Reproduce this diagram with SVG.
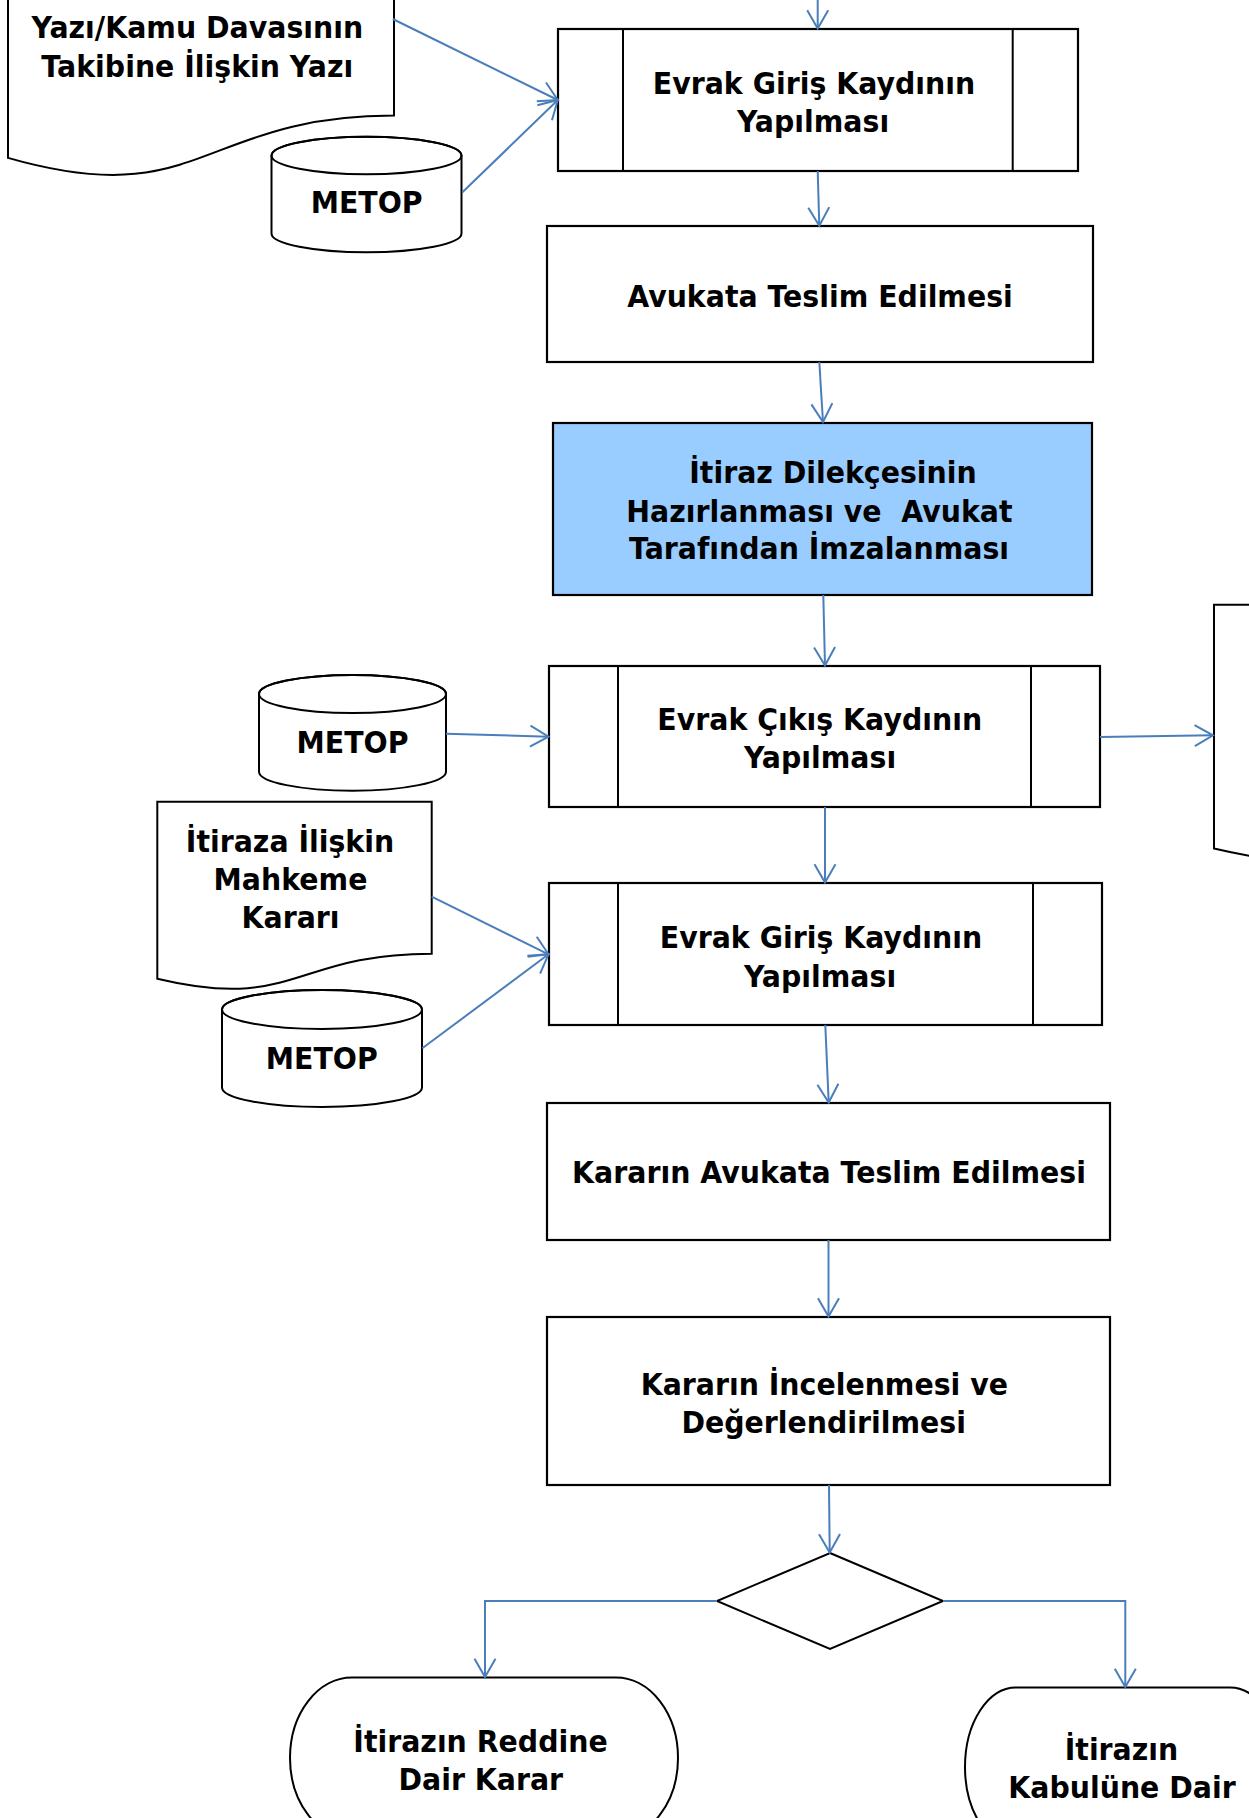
<svg xmlns="http://www.w3.org/2000/svg" width="1249" height="1818" viewBox="0 0 1249 1818">
<defs>
<style>
.shape{fill:#ffffff;stroke:#000000;stroke-width:2}
.proc{fill:#ffffff;stroke:#000000;stroke-width:2.2}
.blue{fill:#99ccff;stroke:#000000;stroke-width:2.2}
.div{stroke:#000000;stroke-width:2;fill:none}
.t{font-family:"DejaVu Sans","Verdana",sans-serif;font-weight:bold;font-size:31px;fill:#000000;text-anchor:middle;white-space:pre}
.c{fill:none;stroke:#4a7ebb;stroke-width:2;marker-end:url(#arr)}
</style>
<marker id="arr" markerUnits="userSpaceOnUse" markerWidth="40" markerHeight="40" refX="0" refY="0" orient="auto" overflow="visible" viewBox="-20 -20 40 40">
<path d="M-18.3,-10.5 L0,0 L-18.3,10.5" fill="none" stroke="#4a7ebb" stroke-width="2"/>
</marker>
</defs>
<rect x="0" y="0" width="1249" height="1818" fill="#ffffff"/>

<g id="doc-yazi">
<path class="shape" d="M8,-141 L394,-141 L394,115.6 C201,115.6 201,213.4 8,157.9 Z"/>
<text class="t" transform="matrix(0.916 0 0 1 197.3 38.3)">Yazı/Kamu Davasının</text>
<text class="t" transform="matrix(0.916 0 0 1 197.3 76.7)">Takibine İlişkin Yazı</text>
</g>

<g id="metop1">
<path class="shape" d="M271.5,155.5 L271.5,233.5 A95,18.8 0 0 0 461.5,233.5 L461.5,155.5 A95,18.8 0 0 0 271.5,155.5 Z"/>
<ellipse cx="366.5" cy="155.5" rx="95" ry="18.8" fill="none" stroke="#000" stroke-width="2"/>
<text class="t" transform="matrix(0.916 0 0 1 366.6 213.3)">METOP</text>
</g>

<g id="box1">
<rect class="proc" x="558" y="29" width="520" height="142"/>
<line class="div" x1="623" y1="29" x2="623" y2="171"/>
<line class="div" x1="1012.7" y1="29" x2="1012.7" y2="171"/>
<text class="t" transform="matrix(0.916 0 0 1 814 94.3)">Evrak Giriş Kaydının</text>
<text class="t" transform="matrix(0.916 0 0 1 813 131.7)">Yapılması</text>
</g>

<g id="box2">
<rect class="proc" x="547" y="226" width="546" height="136"/>
<text class="t" transform="matrix(0.916 0 0 1 820 306.7)">Avukata Teslim Edilmesi</text>
</g>

<g id="box3">
<rect class="blue" x="553" y="423" width="539" height="172"/>
<text class="t" transform="matrix(0.916 0 0 1 833 482.7)">İtiraz Dilekçesinin</text>
<text class="t" transform="matrix(0.916 0 0 1 819.4 521.7)">Hazırlanması ve  Avukat</text>
<text class="t" transform="matrix(0.916 0 0 1 819 559.3)">Tarafından İmzalanması</text>
</g>

<g id="metop2">
<path class="shape" d="M259,694 L259,771.7 A93.5,19 0 0 0 446,771.7 L446,694 A93.5,19 0 0 0 259,694 Z"/>
<ellipse cx="352.5" cy="694" rx="93.5" ry="19" fill="none" stroke="#000" stroke-width="2"/>
<text class="t" transform="matrix(0.916 0 0 1 352.5 752.7)">METOP</text>
</g>

<g id="box4">
<rect class="proc" x="549" y="666" width="551" height="141"/>
<line class="div" x1="618" y1="666" x2="618" y2="807"/>
<line class="div" x1="1031" y1="666" x2="1031" y2="807"/>
<text class="t" transform="matrix(0.916 0 0 1 819.7 730)">Evrak Çıkış Kaydının</text>
<text class="t" transform="matrix(0.916 0 0 1 820 768.3)">Yapılması</text>
</g>

<g id="doc-right">
<path class="shape" d="M1214,604.7 L1601,604.7 L1601,814 C1407.5,814 1407.5,893.8 1214,848.5 Z"/>
</g>

<g id="doc-mahkeme">
<path class="shape" d="M157.3,801.7 L431.7,801.7 L431.7,953.7 C294.5,953.7 294.5,1011.6 157.3,978.7 Z"/>
<text class="t" transform="matrix(0.916 0 0 1 290 851.7)">İtiraza İlişkin</text>
<text class="t" transform="matrix(0.916 0 0 1 290.5 890)">Mahkeme</text>
<text class="t" transform="matrix(0.916 0 0 1 290.5 928.3)">Kararı</text>
</g>

<g id="metop3">
<path class="shape" d="M222,1009.5 L222,1087.5 A100,19.5 0 0 0 422,1087.5 L422,1009.5 A100,19.5 0 0 0 222,1009.5 Z"/>
<ellipse cx="322" cy="1009.5" rx="100" ry="19.5" fill="none" stroke="#000" stroke-width="2"/>
<text class="t" transform="matrix(0.916 0 0 1 321.8 1069)">METOP</text>
</g>

<g id="box5">
<rect class="proc" x="549" y="883" width="553" height="142"/>
<line class="div" x1="618" y1="883" x2="618" y2="1025"/>
<line class="div" x1="1033" y1="883" x2="1033" y2="1025"/>
<text class="t" transform="matrix(0.916 0 0 1 821 948.3)">Evrak Giriş Kaydının</text>
<text class="t" transform="matrix(0.916 0 0 1 820 986.7)">Yapılması</text>
</g>

<g id="box6">
<rect class="proc" x="547" y="1103" width="563" height="137"/>
<text class="t" transform="matrix(0.916 0 0 1 829 1183.3)">Kararın Avukata Teslim Edilmesi</text>
</g>

<g id="box7">
<rect class="proc" x="547" y="1317" width="563" height="168"/>
<text class="t" transform="matrix(0.916 0 0 1 824.3 1395)">Kararın İncelenmesi ve</text>
<text class="t" transform="matrix(0.916 0 0 1 823.7 1432.7)">Değerlendirilmesi</text>
</g>

<g id="decision">
<polygon class="shape" points="830,1553 943,1601 830,1649 717,1601"/>
</g>

<g id="term-red">
<path class="shape" d="M352,1677.5 L616,1677.5 A62,80.5 0 0 1 616,1838.5 L352,1838.5 A62,80.5 0 0 1 352,1677.5 Z"/>
<text class="t" transform="matrix(0.916 0 0 1 480.5 1751.7)">İtirazın Reddine</text>
<text class="t" transform="matrix(0.916 0 0 1 480.8 1790)">Dair Karar</text>
</g>

<g id="term-kabul">
<path class="shape" d="M1016,1687.5 L1230,1687.5 A51,79.5 0 0 1 1230,1846.5 L1016,1846.5 A51,79.5 0 0 1 1016,1687.5 Z"/>
<text class="t" transform="matrix(0.916 0 0 1 1121.5 1760)">İtirazın</text>
<text class="t" transform="matrix(0.916 0 0 1 1122 1798.3)">Kabulüne Dair</text>
</g>

<g id="connectors">
<path class="c" d="M817.7,-5 L817.7,28.5"/>
<path class="c" d="M392.8,19 L557.8,100"/>
<path class="c" d="M462.4,192.3 L557.8,100"/>
<path class="c" d="M817.7,171 L819.3,225.7"/>
<path class="c" d="M819.3,362 L823,422"/>
<path class="c" d="M823.3,595 L825,665.5"/>
<path class="c" d="M446,733.7 L548.5,736.7"/>
<path class="c" d="M1100,737 L1213,735.3"/>
<path class="c" d="M825,807 L825,882.5"/>
<path class="c" d="M431.7,896.7 L548.5,954.3"/>
<path class="c" d="M422.3,1048.3 L548.5,954.3"/>
<path class="c" d="M825.3,1025 L828.7,1102.5"/>
<path class="c" d="M828.5,1240 L828.5,1316.5"/>
<path class="c" d="M829,1485 L829.7,1552.5"/>
<path class="c" d="M717,1601 L485,1601 L485,1677"/>
<path class="c" d="M943,1601 L1125.3,1601 L1125.3,1687"/>
</g>
</svg>
